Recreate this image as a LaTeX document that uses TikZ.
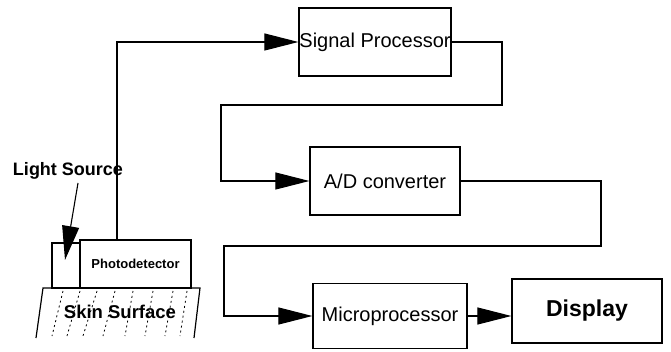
\documentclass[tikz,border=0pt]{standalone}
\usepackage{fontspec}
\setmainfont{Liberation Sans}
\usetikzlibrary{arrows.meta,calc}
\begin{document}
\begin{tikzpicture}[x=1pt,y=-1pt,
  blk/.style={draw,line width=1.2pt,inner sep=0pt,font=\fontsize{20}{22}\selectfont},
  conn/.style={line width=1.1pt},
  arr/.style={conn,-{Triangle[length=34pt,width=17pt]}}]
\useasboundingbox (0,0) rectangle (671,352);
% blocks
\node[blk,minimum width=152pt,minimum height=68pt] (sp) at (375,42) {Signal Processor};
\node[blk,minimum width=150pt,minimum height=68pt] (ad) at (385,181) {A/D converter};
\node[blk,minimum width=154pt,minimum height=65pt] (mp) at (390,316) {Microprocessor};
\node[blk,minimum width=150pt,minimum height=64pt,font=\bfseries\fontsize{23}{25}\selectfont] (dp) at (587,311) {Display};
\node[blk,minimum width=28pt,minimum height=45pt] (ls) at (66,265.5) {};
\node[blk,minimum width=111pt,minimum height=48pt,font=\bfseries\fontsize{13}{15}\selectfont] (pd) at (135.5,264) {Photodetector};
% skin surface
\coordinate (s1) at (43,288);
\coordinate (s2) at (200,288);
\coordinate (s3) at (194,338);
\coordinate (s4) at (36,338);
\draw[line width=1.2pt] (s4) -- (s1) -- (s2) -- (s3);
\foreach \a/\b in {63/52,80/67,97/83,115/103,133/125,153/145,173/165,187/180}
  \draw[line width=0.8pt,dash pattern=on 2pt off 3pt] (\a,291) -- (\b,336);
\node[font=\bfseries\fontsize{18.5}{20}\selectfont] (sk) at (120,312) {Skin Surface};
% light source label
\node[font=\bfseries\fontsize{18}{20}\selectfont] (lsl) at (68,171) {Light Source};
\coordinate (lsa) at (78,183);
\coordinate (lst) at (65,260);
\draw[arr] (lsa) -- (lst);
% connectors
\coordinate (t1) at (117,240);
\draw[arr] (t1) |- (sp.west);
\coordinate (c1) at (502,105);
\coordinate (c2) at (221,105);
\draw[arr] (sp.east) -| (c1) -- (c2) |- (ad.west);
\coordinate (d1) at (601,246);
\coordinate (d2) at (224,246);
\draw[arr] (ad.east) -| (d1) -- (d2) |- (mp.west);
\draw[arr] (mp.east) -- (mp.east -| dp.west);
\end{tikzpicture}
\end{document}
